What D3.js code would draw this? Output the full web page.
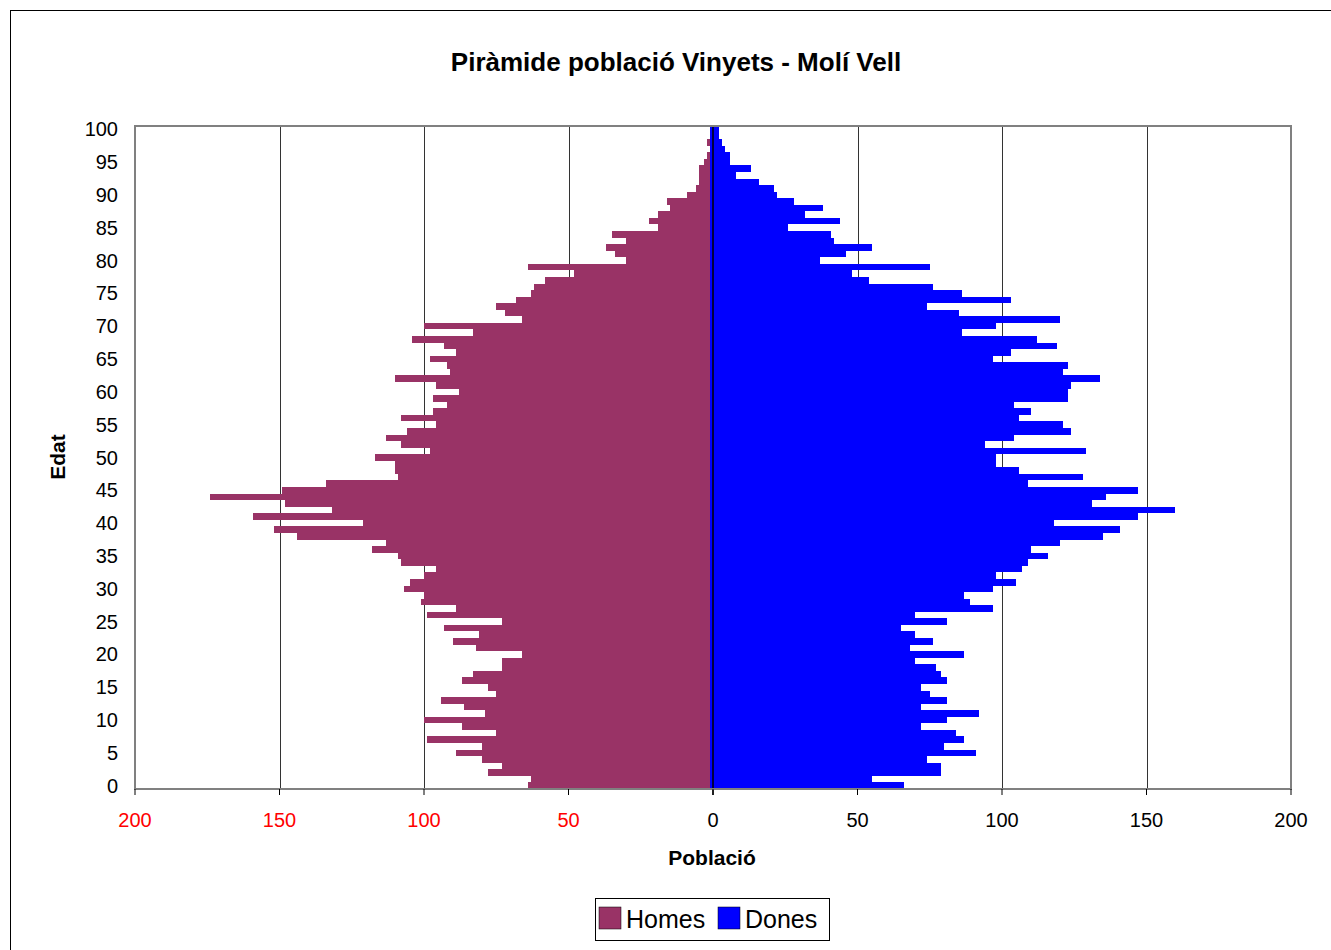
<!DOCTYPE html>
<html lang="ca">
<head>
<meta charset="UTF-8">
<title>Piràmide població Vinyets - Molí Vell</title>
<script src="https://d3js.org/d3.v7.min.js"></script>
<style>
  body { margin: 0; background: #fff; font-family: Arial, "Liberation Sans", sans-serif; }
  .bar { shape-rendering: crispEdges; }
</style>
</head>
<body>
<div id="chart"></div>
<script>
// Ages 0..100
const ages = d3.range(0, 101);

// Homes (men), read age by age from the picture
const homes = [
  64, 63, 78, 73, 80, 89, 80, 99, 75, 87,
  100, 79, 86, 94, 75, 78, 87, 83, 73, 73,
  66, 82, 90, 81, 93, 73, 99, 89, 101, 100,
  107, 105, 100, 96, 108, 109, 118, 113, 144, 152,
  121, 159, 132, 148, 174, 149, 134, 109, 110, 110,
  117, 98, 108, 113, 106, 96, 108, 97, 92, 97,
  88, 96, 110, 91, 92, 98, 89, 93, 104, 83,
  100, 66, 72, 75, 68, 63, 62, 58, 48, 64,
  30, 34, 37, 30, 35, 19, 22, 19, 15, 16,
  9, 6, 5, 5, 5, 3, 2, 1, 2, 1,
  0
];

// Dones (women)
const dones = [
  66, 55, 79, 79, 74, 91, 80, 87, 84, 72,
  81, 92, 72, 81, 75, 72, 81, 79, 77, 70,
  87, 68, 76, 70, 65, 81, 70, 97, 89, 87,
  97, 105, 98, 107, 109, 116, 110, 120, 135, 141,
  118, 147, 160, 131, 136, 147, 109, 128, 106, 98,
  98, 129, 94, 104, 124, 121, 106, 110, 104, 123,
  123, 124, 134, 121, 123, 97, 103, 119, 112, 86,
  98, 120, 85, 74, 103, 86, 76, 54, 48, 75,
  37, 46, 55, 42, 41, 26, 44, 32, 38, 28,
  22, 21, 16, 8, 13, 6, 6, 4, 3, 2,
  2
];

const xTicks = [-200, -150, -100, -50, 0, 50, 100, 150, 200];
const yTicks = d3.range(0, 101, 5);

const W = 1331, H = 950;
const margin = { top: 126, left: 135 };
const width = 1291 - 135;
const height = 789 - 126;

const colHomes = "#993366";
const colDones = "#0000ff";

const svg = d3.select("#chart").append("svg")
    .attr("width", W)
    .attr("height", H);

// outer chart border
svg.append("rect")
    .attr("x", 10.5).attr("y", 10.5)
    .attr("width", W).attr("height", H)
    .attr("fill", "#fff").attr("stroke", "#000");

// title
svg.append("text")
    .attr("x", 676).attr("y", 71)
    .attr("text-anchor", "middle")
    .attr("font-size", 26).attr("font-weight", "bold")
    .text("Piràmide població Vinyets - Molí Vell");

const g = svg.append("g").attr("transform", `translate(${margin.left},${margin.top})`);

const x = d3.scaleLinear().domain([-200, 200]).range([0, width]);
const y = d3.scaleBand().domain(ages).range([height, 0]).padding(0);

// vertical gridlines
g.selectAll(".grid")
    .data(xTicks.filter(d => d !== 0 && Math.abs(d) !== 200))
    .enter().append("line")
    .attr("x1", d => Math.round(x(d)) + 0.5).attr("x2", d => Math.round(x(d)) + 0.5)
    .attr("y1", 0).attr("y2", height)
    .attr("stroke", "#333").attr("stroke-width", 1);

// bars
g.selectAll(".homes")
    .data(ages)
    .enter().append("rect")
    .attr("class", "bar")
    .attr("x", d => x(-homes[d]))
    .attr("y", d => y(d))
    .attr("width", d => x(0) - x(-homes[d]))
    .attr("height", y.bandwidth())
    .attr("fill", colHomes);

g.selectAll(".dones")
    .data(ages)
    .enter().append("rect")
    .attr("class", "bar")
    .attr("x", x(0) - 3)
    .attr("y", d => y(d))
    .attr("width", d => x(dones[d]) - x(0) + 3)
    .attr("height", y.bandwidth())
    .attr("fill", colDones);

// zero axis line
g.append("line")
    .attr("x1", x(0)).attr("x2", x(0))
    .attr("y1", 0).attr("y2", height + 6)
    .attr("stroke", "#000").attr("stroke-width", 1.5);

// plot frame
g.append("rect")
    .attr("x", 0).attr("y", 0)
    .attr("width", width).attr("height", height)
    .attr("fill", "none").attr("stroke", "#808080").attr("stroke-width", 2);

// x axis ticks and labels
const xAxis = g.append("g").attr("transform", `translate(0,${height})`);
xAxis.selectAll("line")
    .data(xTicks)
    .enter().append("line")
    .attr("x1", d => x(d)).attr("x2", d => x(d))
    .attr("y1", 0).attr("y2", 6)
    .attr("stroke", "#000");
xAxis.selectAll("text")
    .data(xTicks)
    .enter().append("text")
    .attr("x", d => x(d))
    .attr("y", 38)
    .attr("text-anchor", "middle")
    .attr("font-size", 20)
    .attr("fill", d => d < 0 ? "#ff0000" : "#000")
    .text(d => Math.abs(d));

// y axis labels
g.selectAll(".ylab")
    .data(yTicks)
    .enter().append("text")
    .attr("x", -17)
    .attr("y", d => y(d) + y.bandwidth() / 2)
    .attr("dy", "0.35em")
    .attr("text-anchor", "end")
    .attr("font-size", 20)
    .text(d => d);

// axis titles
svg.append("text")
    .attr("x", 712).attr("y", 865)
    .attr("text-anchor", "middle")
    .attr("font-size", 21).attr("font-weight", "bold")
    .text("Població");

svg.append("text")
    .attr("transform", "translate(65,457) rotate(-90)")
    .attr("text-anchor", "middle")
    .attr("font-size", 21).attr("font-weight", "bold")
    .text("Edat");

// legend
const legend = svg.append("g").attr("transform", "translate(595,898)");
legend.append("rect")
    .attr("x", 0.5).attr("y", 0.5)
    .attr("width", 234).attr("height", 42)
    .attr("fill", "#fff").attr("stroke", "#000");
const items = [
    { name: "Homes", color: colHomes, x: 4 },
    { name: "Dones", color: colDones, x: 123 }
];
items.forEach(it => {
    legend.append("rect")
        .attr("x", it.x).attr("y", 9)
        .attr("width", 22).attr("height", 22)
        .attr("fill", it.color).attr("stroke", "#000").attr("stroke-width", 0.5);
    legend.append("text")
        .attr("x", it.x + 27).attr("y", 30)
        .attr("font-size", 25)
        .text(it.name);
});
</script>
</body>
</html>
